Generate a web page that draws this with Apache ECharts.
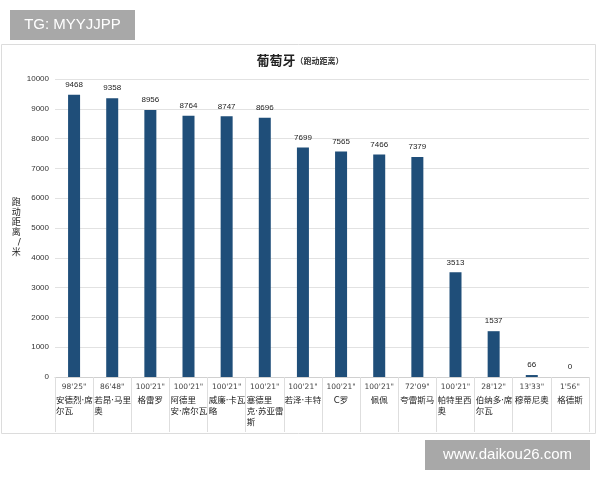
<!DOCTYPE html>
<html>
<head>
<meta charset="utf-8">
<script src="https://cdn.jsdelivr.net/npm/echarts@6/dist/echarts.min.js"></script>
<style>
html,body{margin:0;padding:0;background:#fff;}
#c{width:600px;height:480px;}
</style>
</head>
<body>
<div id="c"></div>
<script>
const players = ["安德烈·席\n尔瓦","若昂·马里\n奥","格雷罗","阿德里\n安·席尔瓦","威廉·卡瓦\n略","塞德里\n克·苏亚雷\n斯","若泽·丰特","C罗","佩佩","夸雷斯马","帕特里西\n奥","伯纳多·席\n尔瓦","穆蒂尼奥","格德斯"];
const minutes = ["98'25\"","86'48\"","100'21\"","100'21\"","100'21\"","100'21\"","100'21\"","100'21\"","100'21\"","72'09\"","100'21\"","28'12\"","13'33\"","1'56\""];
const distance = [9468,9358,8956,8764,8747,8696,7699,7565,7466,7379,3513,1537,66,0];
const yTicks = [0,1000,2000,3000,4000,5000,6000,7000,8000,9000,10000];

const FONT = '"DejaVu Sans", "Noto Sans CJK SC", sans-serif';
const chart = echarts.init(document.getElementById('c'));
const cats = players.map((p,i)=>minutes[i]+'\n'+p);
chart.setOption({
  animation:false,
  backgroundColor:'#fff',
  graphic:[
    {type:'rect',shape:{x:1.5,y:44.5,width:594,height:389},style:{fill:'#fff',stroke:'#dcdcdc',lineWidth:1},z:-10},
    {type:'rect',shape:{x:10,y:10,width:125,height:30},style:{fill:'#a8a8a8'},z:10},
    {type:'text',x:72.5,y:25,style:{text:'TG: MYYJJPP',fill:'#fff',font:'15px "Liberation Sans", Arial, sans-serif',align:'center',verticalAlign:'middle'},z:11},
    {type:'rect',shape:{x:425,y:440,width:165,height:30},style:{fill:'#a8a8a8'},z:10},
    {type:'text',x:507.5,y:455,style:{text:'www.daikou26.com',fill:'#fff',font:'15px "Liberation Sans", Arial, sans-serif',align:'center',verticalAlign:'middle'},z:11}
  ],
  title:{
    text:'{a|葡萄牙}{b|（跑动距离）}',
    left:'center', top:49,
    textStyle:{rich:{
      a:{fontSize:13,fontWeight:'bold',color:'#222',fontFamily:'"Noto Sans CJK SC", sans-serif'},
      b:{fontSize:8,color:'#333',fontFamily:'"Noto Sans CJK SC", sans-serif'}
    }}
  },
  grid:{left:55,right:11,top:79,bottom:103,containLabel:false},
  xAxis:{
    type:'category',
    data:cats,
    axisLine:{lineStyle:{color:'#d0d0d0'}},
    axisTick:{show:true,length:55,lineStyle:{color:'#dedede'}},
    axisLabel:{
      interval:0,
      margin:2,
      color:'#333',
      fontSize:8,
      fontFamily:FONT,
      verticalAlign:'top',
      formatter:function(v){
        const parts=v.split('\n');
        const t=parts.shift();
        const st = parts.length>1 ? 'n' : 'c';
        return '{t|'+t+'}\n{'+st+'|'+parts.join('}\n{'+st+'|')+'}';
      },
      rich:{
        t:{fontSize:7.5,color:'#444',lineHeight:16,align:'center',fontFamily:FONT},
        n:{fontSize:8.5,color:'#222',lineHeight:11,align:'left',width:36,fontFamily:FONT},
        c:{fontSize:8.5,color:'#222',lineHeight:11,align:'center',width:36,fontFamily:FONT}
      }
    }
  },
  yAxis:{
    type:'value',
    min:0,max:10000,interval:1000,
    name:'跑\n动\n距\n离\n/\n米',
    nameLocation:'middle',
    nameGap:34,
    nameRotate:0,
    nameTextStyle:{fontSize:9,color:'#222',lineHeight:10,fontFamily:FONT},
    axisLine:{show:false},
    axisTick:{show:false},
    axisLabel:{color:'#333',fontSize:8,margin:6,formatter:function(v){return yTicks.indexOf(v)>=0?String(v):'';}},
    splitLine:{lineStyle:{color:'#e2e2e2'}}
  },
  series:[{
    type:'bar',
    data:distance,
    barWidth:12,
    itemStyle:{color:'#1f4e79'},
    label:{show:true,position:'top',distance:6,color:'#222',fontSize:8}
  }]
});
</script>
</body>
</html>
